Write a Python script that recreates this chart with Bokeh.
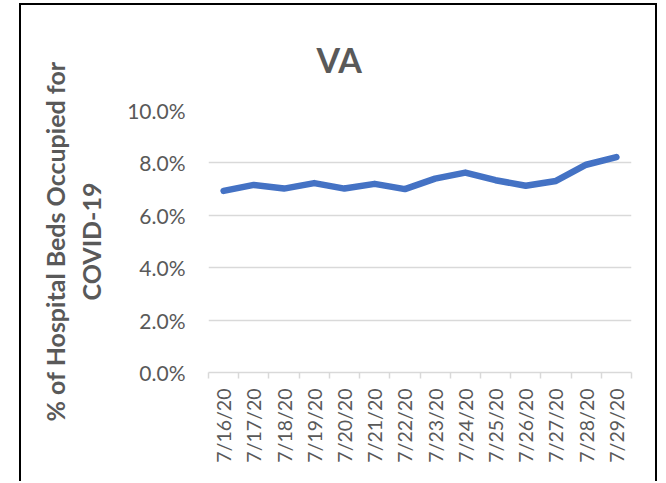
from bokeh.plotting import figure
from bokeh.models import Range1d, LinearAxis, FixedTicker, NumeralTickFormatter
from bokeh.embed import file_html
from bokeh.resources import INLINE
import math

# ---- data ----
dates = ["7/16/20", "7/17/20", "7/18/20", "7/19/20", "7/20/20", "7/21/20", "7/22/20",
         "7/23/20", "7/24/20", "7/25/20", "7/26/20", "7/27/20", "7/28/20", "7/29/20"]
occupied = [0.0693, 0.0716, 0.0702, 0.0723, 0.0702, 0.0720, 0.0700,
            0.0740, 0.0763, 0.0734, 0.0713, 0.0731, 0.0793, 0.0822]
y_ticks = [0.0, 0.02, 0.04, 0.06, 0.08, 0.10]
title_text = "VA"
ytitle = "% of Hospital Beds Occupied for\nCOVID-19"

GRAY_TXT = "#595959"
GRID = "#d9d9d9"
FONT = "Lato"

n = len(dates)
centers = [i + 0.5 for i in range(n)]  # category slot centres

p = figure(width=638, height=478, output_backend="svg", toolbar_location=None,
           x_range=Range1d(0, n), y_range=Range1d(0, 0.10),
           x_axis_location=None, y_axis_location="left",
           min_border_left=187, min_border_right=28, min_border_top=105, min_border_bottom=111)
p.outline_line_color = None
p.background_fill_color = "white"
p.border_fill_color = "white"
p.styles = {"border": "2px solid #000000", "border-bottom": "none",
            "margin-left": "19px", "margin-top": "3px"}

# title
p.title.text = title_text
p.title.align = "left"
p.title.offset = 108
p.title.standoff = 62
p.title.text_font = FONT
p.title.text_font_style = "bold"
p.title.text_font_size = "34px"
p.title.text_color = GRAY_TXT

# y axis
ya = p.yaxis[0]
ya.ticker = FixedTicker(ticks=y_ticks)
ya.formatter = NumeralTickFormatter(format="0.0%")
ya.axis_line_color = None
ya.major_tick_line_color = None
ya.major_tick_out = 0
ya.major_tick_in = 0
ya.minor_tick_line_color = None
ya.major_label_text_font = FONT
ya.major_label_text_font_size = "21px"
ya.major_label_text_color = GRAY_TXT
ya.major_label_standoff = 23
ya.axis_label = ytitle
ya.axis_label_text_font = FONT
ya.axis_label_text_font_style = "bold"
ya.axis_label_text_font_size = "25px"
ya.axis_label_text_color = GRAY_TXT
ya.axis_label_text_align = "center"
ya.axis_label_standoff = 18

p.ygrid.ticker = FixedTicker(ticks=y_ticks)
p.ygrid.grid_line_color = GRID
p.ygrid.grid_line_width = 1.5
p.xgrid.grid_line_color = None

# tick-mark axis at category boundaries
tick_axis = LinearAxis(ticker=FixedTicker(ticks=list(range(n + 1))),
                       axis_line_color=GRID, axis_line_width=1.5,
                       major_tick_line_color=GRID, major_tick_line_width=1.5,
                       major_tick_in=0, major_tick_out=6,
                       minor_tick_line_color=None,
                       major_label_text_font_size="0px", major_label_standoff=0)
p.add_layout(tick_axis, "below")

# category label axis (text reads bottom-to-top)
cat_axis = LinearAxis(ticker=FixedTicker(ticks=centers),
                      major_label_overrides={c: d for c, d in zip(centers, dates)},
                      axis_line_color=None, major_tick_line_color=None,
                      major_tick_out=0, major_tick_in=0,
                      minor_tick_line_color=None,
                      major_label_orientation=math.pi / 2,
                      major_label_text_font=FONT,
                      major_label_text_font_size="19.5px",
                      major_label_text_color=GRAY_TXT,
                      major_label_standoff=10)
p.add_layout(cat_axis, "below")

# data line
p.line(x=centers, y=occupied, line_color="#4472C4", line_width=6.5,
       line_join="round", line_cap="round")

open("out.html", "w").write(file_html(p, INLINE))
